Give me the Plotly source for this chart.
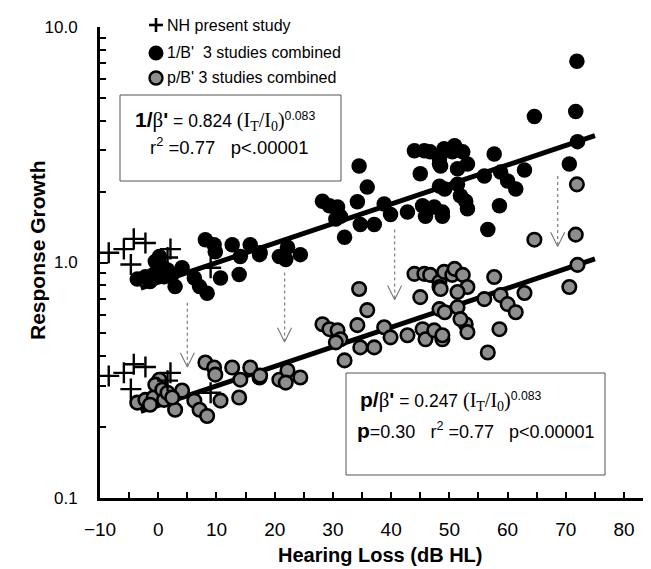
import numpy as np
import plotly.graph_objects as go

# ---------------- data ----------------
# hearing loss (dB HL) of the impaired listeners, 3 studies combined
hl_db = [-3.6, -2.2, -0.8, 0.2, -0.5, 0.7, 1.0, 1.6, 2.9, 4.1, 6.2, 7.1, 8.4, 8.1, 9.6, 9.8,
         12.7, 14.1, 15.8, 17.4, 10.7, 13.9, -1.4, 2.4, 17.5, 20.8, 22.2, 21.9, 24.4,
         28.2, 29.4, 30.8, 31.3, 30.5, 32.0, 34.2, 34.5, 35.9, 34.7, 37.1, 38.8, 39.9, 42.8,
         44.0, 45.0, 45.4, 45.9, 47.4, 48.8, 45.7, 46.7, 48.3, 49.1, 48.3, 50.5, 48.3, 50.9,
         52.3, 53.1, 48.5, 51.4, 57.7, 56.0, 58.8, 60.0, 61.4, 62.9, 49.2, 51.4, 52.8, 53.1,
         48.8, 58.6, 56.6, 51.9, 70.6, 72.0, 71.7, 64.6, 71.9]
# 1/B' values
inv_beta = [0.85, 0.87, 0.89, 1.06, 1.01, 0.96, 0.87, 0.93, 0.79, 0.95, 0.86, 0.79, 0.74, 1.25, 1.19, 1.11,
            1.19, 1.06, 1.19, 1.08, 0.86, 0.89, 0.83, 0.89, 1.10, 1.06, 1.16, 1.03, 1.08,
            1.82, 1.74, 1.72, 1.57, 1.53, 1.28, 1.81, 2.57, 2.09, 1.45, 1.45, 1.77, 1.60, 1.64,
            2.98, 2.38, 1.74, 1.57, 1.72, 1.57, 2.98, 2.95, 2.76, 3.04, 2.62, 2.95, 2.11, 3.13,
            2.95, 2.62, 2.57, 2.50, 2.89, 2.33, 2.42, 2.22, 2.05, 2.47, 2.05, 2.15, 1.82, 1.69,
            1.64, 1.74, 1.38, 1.92, 2.62, 3.26, 4.38, 4.17, 7.16]
# p/B' values
p_beta = [0.254, 0.261, 0.267, 0.318, 0.303, 0.288, 0.261, 0.280, 0.237, 0.286, 0.259, 0.237, 0.223, 0.376, 0.358, 0.334,
          0.358, 0.318, 0.358, 0.325, 0.259, 0.267, 0.249, 0.267, 0.331, 0.318, 0.348, 0.309, 0.325,
          0.547, 0.521, 0.515, 0.472, 0.458, 0.384, 0.542, 0.772, 0.628, 0.436, 0.436, 0.531, 0.481, 0.491,
          0.895, 0.713, 0.521, 0.472, 0.515, 0.472, 0.895, 0.886, 0.827, 0.912, 0.787, 0.886, 0.634, 0.940,
          0.886, 0.787, 0.772, 0.749, 0.868, 0.699, 0.727, 0.666, 0.615, 0.742, 0.615, 0.646, 0.547, 0.506,
          0.491, 0.521, 0.415, 0.575, 0.787, 0.977, 1.313, 1.250, 2.147]
# normal-hearing listeners, present study
nh_db = [-8.5, -5.9, -4.2, -2.2, -4.7, 2.1, 1.6, 9.0]
nh_inv = [1.10, 1.14, 1.26, 1.21, 0.98, 1.14, 1.05, 0.95]
nh_p = [0.33, 0.34, 0.37, 0.36, 0.29, 0.34, 0.315, 0.28]

# fitted power functions: y = a * (IT/I0)^b, IT/I0 = 10^(dB/10)
fit_inv_a = 0.824
fit_p_a = 0.247
fit_b = 0.083
fit_range = [-3, 75]

# dotted arrows from 1/B' to p/B'
arrow_db = [5.0, 21.7, 40.6, 68.6]
arrow_top = [0.675, 0.906, 1.38, 2.33]
arrow_tip = [0.36, 0.46, 0.695, 1.17]

x_ticks = [-10, 0, 10, 20, 30, 40, 50, 60, 70, 80]
y_ticks = [0.1, 1.0, 10.0]
y_ticktext = ["0.1", "1.0", "10.0"]

# ---------------- figure ----------------
W, H = 651, 569
ML, MR, MT, MB = 92, 0, 19, 79
PW, PH = W - ML - MR, H - MT - MB


def px(x):
    return (x - ML) / PW


def py(y):
    return (H - MB - y) / PH


fig = go.Figure()

# fit lines
fx = np.linspace(fit_range[0], fit_range[1], 50)
for a in (fit_inv_a, fit_p_a):
    fig.add_trace(go.Scatter(x=fx, y=a * 10 ** (fit_b * fx / 10), mode="lines",
                             line=dict(color="black", width=5), hoverinfo="skip"))

# dotted arrows
for xd, yt, yb in zip(arrow_db, arrow_top, arrow_tip):
    fig.add_trace(go.Scatter(x=[xd, xd], y=[yt, yb], mode="lines",
                             line=dict(color="#888888", width=1.3, dash="dot"), hoverinfo="skip"))
    fig.add_trace(go.Scatter(x=[xd - 1.2, xd, xd + 1.2], y=[yb * 10 ** 0.06, yb, yb * 10 ** 0.06],
                             mode="lines", line=dict(color="#777777", width=1.1), hoverinfo="skip"))

# 1/B' black circles
fig.add_trace(go.Scatter(x=hl_db, y=inv_beta, mode="markers", name="1/B' 3 studies combined",
                         marker=dict(size=15.5, color="black", line=dict(width=0)), cliponaxis=False))
# p/B' gray circles
fig.add_trace(go.Scatter(x=hl_db, y=p_beta, mode="markers", name="p/B' 3 studies combined",
                         marker=dict(size=13.5, color="#8e8e8e", line=dict(width=2.6, color="black")),
                         cliponaxis=False))
# NH crosses
fig.add_trace(go.Scatter(x=nh_db + nh_db, y=nh_inv + nh_p, mode="markers", name="NH present study",
                         marker=dict(symbol="cross-thin", size=15, line=dict(width=2.4, color="black")),
                         cliponaxis=False))

shapes = []
annotations = []

# manual legend
leg_items = [("cross", "NH present study", 17), ("black", "1/B'  3 studies combined", 45),
             ("gray", "p/B' 3 studies combined", 70)]
for kind, label, yy in leg_items:
    cx, cy = px(148), py(yy)
    if kind == "cross":
        shapes.append(dict(type="line", xref="paper", yref="paper", xsizemode="pixel", ysizemode="pixel",
                           xanchor=cx, yanchor=cy, x0=-7, x1=7, y0=0, y1=0, line=dict(color="black", width=2.6)))
        shapes.append(dict(type="line", xref="paper", yref="paper", xsizemode="pixel", ysizemode="pixel",
                           xanchor=cx, yanchor=cy, x0=0, x1=0, y0=-7, y1=7, line=dict(color="black", width=2.6)))
    elif kind == "black":
        shapes.append(dict(type="circle", xref="paper", yref="paper", xsizemode="pixel", ysizemode="pixel",
                           xanchor=cx, yanchor=cy, x0=-7.5, x1=7.5, y0=-7.5, y1=7.5,
                           fillcolor="black", line=dict(width=0)))
    else:
        shapes.append(dict(type="circle", xref="paper", yref="paper", xsizemode="pixel", ysizemode="pixel",
                           xanchor=cx, yanchor=cy, x0=-6.5, x1=6.5, y0=-6.5, y1=6.5,
                           fillcolor="#8e8e8e", line=dict(width=2.4, color="black")))
    annotations.append(dict(xref="paper", yref="paper", x=px(157), y=cy, xanchor="left", yanchor="middle",
                            text=label, showarrow=False, font=dict(size=16, color="black")))

# equation boxes
shapes.append(dict(type="rect", xref="paper", yref="paper", x0=px(112), x1=px(333), y0=py(173), y1=py(87),
                   line=dict(color="#555555", width=1)))
shapes.append(dict(type="rect", xref="paper", yref="paper", x0=px(338), x1=px(597), y0=py(467), y1=py(365),
                   line=dict(color="#555555", width=1)))

SER = "font-family:'Liberation Serif','Times New Roman',serif"
BIG = "font-size:21px;font-weight:bold"
eq1 = (f"<span style=\"{BIG}\">1/</span><span style=\"{SER};font-size:21px\">β</span>"
       f"<span style=\"{BIG}\">'</span> = 0.824 "
       f"<span style=\"{SER};font-size:20px\">(I<sub>T</sub>/I<sub>0</sub>)</span><sup>0.083</sup>")
eq1b = "r<sup>2</sup> =0.77\u00a0\u00a0\u00a0p&lt;.00001"
eq2 = (f"<span style=\"{BIG}\">p/</span><span style=\"{SER};font-size:21px\">β</span>"
       f"<span style=\"{BIG}\">'</span> = 0.247 "
       f"<span style=\"{SER};font-size:20px\">(I<sub>T</sub>/I<sub>0</sub>)</span><sup>0.083</sup>")
eq2b = (f"<span style=\"{BIG}\">p</span>=0.30\u00a0\u00a0\u00a0"
        "r<sup>2</sup> =0.77\u00a0\u00a0\u00a0p&lt;0.00001")
for t, x, y, s in [(eq1, 125, 113, 17.5), (eq1b, 140, 138, 18.5), (eq2, 350, 393, 17.5), (eq2b, 347, 422, 18)]:
    annotations.append(dict(xref="paper", yref="paper", x=px(x), y=py(y), xanchor="left", yanchor="middle",
                            text=t, showarrow=False, font=dict(size=s, color="black")))

# axis titles
annotations.append(dict(xref="paper", yref="paper", x=px(372), y=py(547), xanchor="center", yanchor="middle",
                        text="<b>Hearing Loss (dB HL)</b>", showarrow=False, font=dict(size=20, color="black")))
annotations.append(dict(xref="paper", yref="paper", x=px(29), y=py(242), xanchor="center", yanchor="middle",
                        text="<b>Response Growth</b>", textangle=-90, showarrow=False,
                        font=dict(size=21, color="black")))

fig.update_layout(
    width=W, height=H, margin=dict(l=ML, r=MR, t=MT, b=MB),
    paper_bgcolor="white", plot_bgcolor="white", showlegend=False,
    font=dict(family="'Liberation Sans', Arial, sans-serif", color="black"),
    shapes=shapes, annotations=annotations,
    xaxis=dict(range=[-10, 86], tickvals=x_ticks, ticks="inside", ticklen=6, tickwidth=2, tickcolor="black",
               showline=True, linewidth=3, linecolor="black", showgrid=False, zeroline=False,
               tickfont=dict(size=19), ticklabelstandoff=12,
               minor=dict(dtick=5, tick0=0, ticks="inside", ticklen=6, tickwidth=2, tickcolor="black",
                          showgrid=False)),
    yaxis=dict(type="log", range=[-1, 1], tickvals=y_ticks, ticktext=y_ticktext, ticks="inside", ticklen=8,
               tickwidth=2, tickcolor="black", showline=True, linewidth=3, linecolor="black", showgrid=False,
               zeroline=False, tickfont=dict(size=17), ticklabelstandoff=16,
               minor=dict(dtick="D1", ticks="inside", ticklen=6, tickwidth=2, tickcolor="black",
                          showgrid=False)),
)

fig.write_html("out.html")
